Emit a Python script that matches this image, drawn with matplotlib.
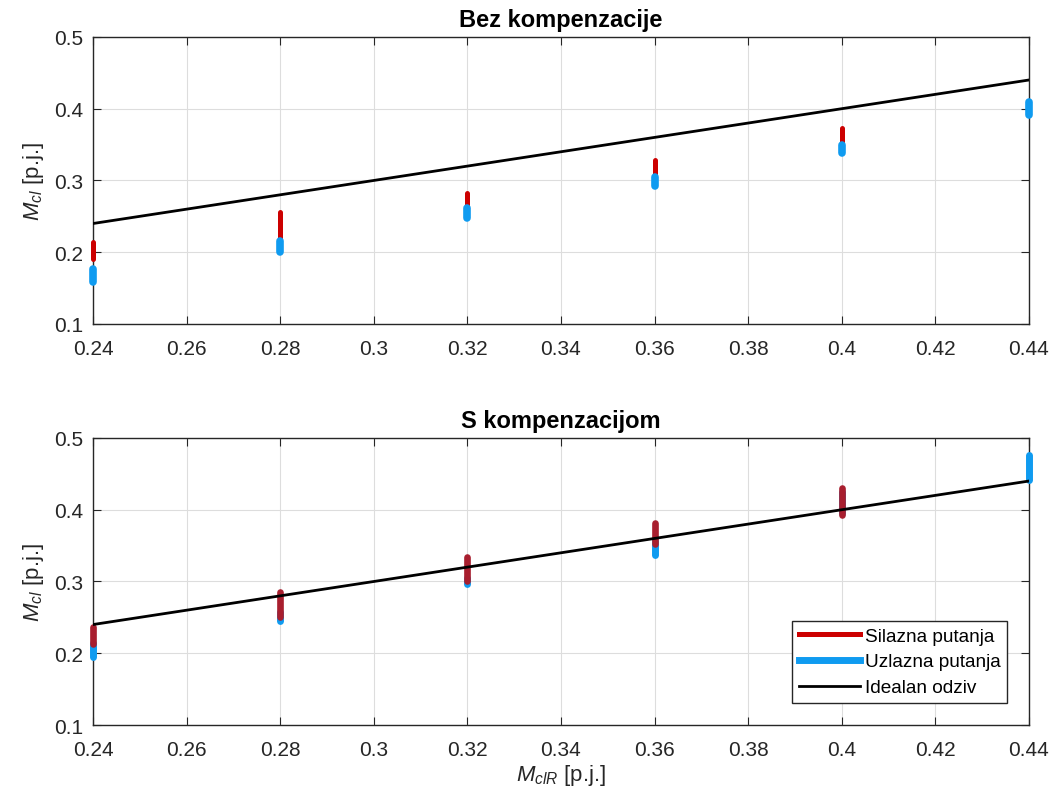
import numpy as np
import matplotlib
matplotlib.use("Agg")
import matplotlib.pyplot as plt
from matplotlib.lines import Line2D

plt.rcParams["font.family"] = ["Liberation Sans", "DejaVu Sans"]
plt.rcParams["mathtext.fontset"] = "custom"
plt.rcParams["mathtext.rm"] = "Liberation Sans"
plt.rcParams["mathtext.it"] = "Liberation Sans:italic"

# reference torque values
m_ref = [0.24, 0.28, 0.32, 0.36, 0.40, 0.44]

# without compensation: (low, high) ranges measured at each reference
bez_silazna_lo = [0.190, 0.212, 0.262, 0.305, 0.350, 0.396]
bez_silazna_hi = [0.214, 0.256, 0.283, 0.329, 0.373, 0.404]
bez_uzlazna_lo = [0.158, 0.200, 0.247, 0.292, 0.338, 0.391]
bez_uzlazna_hi = [0.177, 0.215, 0.261, 0.305, 0.350, 0.409]

# with compensation (descending path not visible at 0.44)
s_silazna_lo = [0.213, 0.250, 0.300, 0.352, 0.392, np.nan]
s_silazna_hi = [0.236, 0.286, 0.334, 0.382, 0.430, np.nan]
s_uzlazna_lo = [0.195, 0.245, 0.297, 0.337, 0.396, 0.441]
s_uzlazna_hi = [0.214, 0.258, 0.305, 0.356, 0.425, 0.476]

ideal_x = [0.24, 0.44]
ideal_y = [0.24, 0.44]

red = "#CC0000"
red_dark = "#A81E2E"
blue = "#0F9BF0"
axcol = "#262626"


def draw_ranges(ax, lo, hi, color, lw):
    for x, a, b in zip(m_ref, lo, hi):
        if np.isnan(a):
            continue
        ax.plot([x, x], [a, b], color=color, lw=lw, solid_capstyle="round",
                clip_on=False, zorder=3)


def style_axes(ax, title):
    ax.set_xlim(0.24, 0.44)
    ax.set_ylim(0.1, 0.5)
    ax.set_xticks(np.arange(0.24, 0.4401, 0.02))
    ax.set_xticklabels(["0.24", "0.26", "0.28", "0.3", "0.32", "0.34",
                        "0.36", "0.38", "0.4", "0.42", "0.44"])
    ax.set_yticks([0.1, 0.2, 0.3, 0.4, 0.5])
    ax.set_yticklabels(["0.1", "0.2", "0.3", "0.4", "0.5"])
    ax.grid(True, color="#DDDDDD", lw=0.8)
    ax.set_axisbelow(True)
    ax.tick_params(direction="in", top=True, right=True, length=6,
                   labelsize=15, colors=axcol)
    ax.tick_params(axis="x", pad=11)
    ax.tick_params(axis="y", pad=7)
    for s in ax.spines.values():
        s.set_color(axcol)
        s.set_linewidth(1.0)
    ax.set_title(title, fontsize=17, fontweight="bold", color="black", pad=8)
    ax.set_ylabel("$M_{cl}$ [p.j.]", fontsize=16, color=axcol, labelpad=6)


fig = plt.figure(figsize=(10.54, 8.04), dpi=100)
ax1 = fig.add_axes([0.0882, 0.5958, 0.888, 0.357])
ax2 = fig.add_axes([0.0882, 0.0970, 0.888, 0.357])

# top plot
draw_ranges(ax1, bez_silazna_lo, bez_silazna_hi, red, 3.6)
draw_ranges(ax1, bez_uzlazna_lo, bez_uzlazna_hi, blue, 5.5)
ax1.plot(ideal_x, ideal_y, color="black", lw=2, zorder=4)
style_axes(ax1, "Bez kompenzacije")

# bottom plot
draw_ranges(ax2, s_uzlazna_lo, s_uzlazna_hi, blue, 5.0)
draw_ranges(ax2, s_silazna_lo, s_silazna_hi, red_dark, 4.8)
ax2.plot(ideal_x, ideal_y, color="black", lw=2, zorder=4)
style_axes(ax2, "S kompenzacijom")
ax2.set_xlabel("$M_{clR}$ [p.j.]", fontsize=16, color=axcol, labelpad=2)

handles = [Line2D([], [], color=red, lw=3.6),
           Line2D([], [], color=blue, lw=5.0),
           Line2D([], [], color="black", lw=2)]
labels = ["Silazna putanja", "Uzlazna putanja", "Idealan odziv"]
leg = ax2.legend(handles, labels,
                 loc="lower right", bbox_to_anchor=(0.9765, 0.0767),
                 fontsize=13.7, frameon=True, fancybox=False, framealpha=1,
                 edgecolor=axcol, handlelength=3.2, handletextpad=0.25,
                 borderpad=0.35, labelspacing=0.45, borderaxespad=0)
leg.get_frame().set_linewidth(1.0)

fig.savefig("out.png", dpi=100)
